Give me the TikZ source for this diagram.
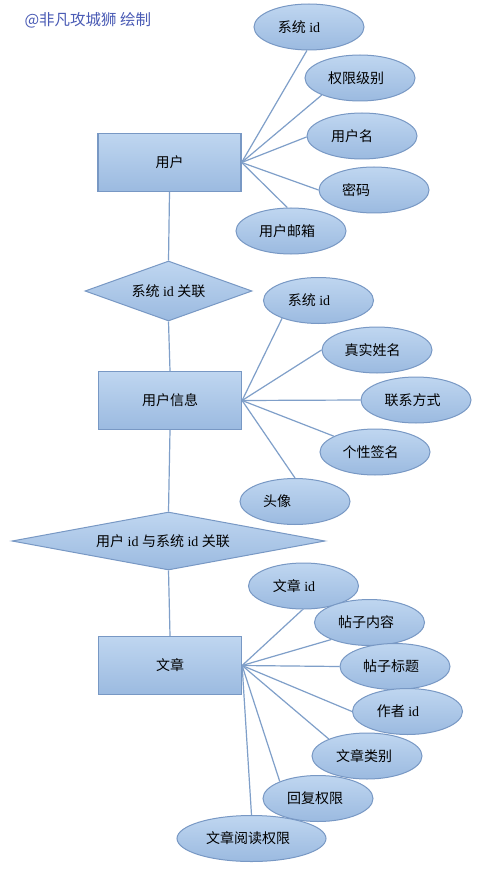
\documentclass[tikz,border=0pt]{standalone}
\usepackage{fontspec}
\setmainfont{Liberation Serif}
\newfontfamily\cjk{Noto Sans CJK SC}
\usetikzlibrary{shapes.geometric}
\definecolor{ctop}{HTML}{BFD6F0}
\definecolor{cbot}{HTML}{9BBAE0}
\definecolor{cedge}{HTML}{7898C4}
\definecolor{cline}{HTML}{7F9FC9}
\definecolor{ctitle}{HTML}{4A5BB5}
\newcommand\shl[1]{\hspace*{#1pt}}
\tikzset{
  txt/.style={font=\fontsize{14}{16}\selectfont, text=black},
  entity/.style={txt, rectangle, draw=cedge, line width=1.2pt, top color=ctop, bottom color=cbot, minimum width=143pt, minimum height=58pt, inner sep=0pt},
  attr/.style={txt, ellipse, draw=cedge, line width=1pt, top color=ctop, bottom color=cbot, minimum width=110pt, minimum height=46pt, inner sep=0pt},
  rel/.style={txt, diamond, draw=cedge, line width=1pt, top color=ctop, bottom color=cbot, inner sep=0pt, aspect=2.8},
  conn/.style={draw=cline, line width=1.2pt}
}
\begin{document}
\begin{tikzpicture}[x=1pt,y=-1pt]
\useasboundingbox (0,0) rectangle (483,877);
\fill[white] (0,0) rectangle (483,877);
\node[anchor=west, text=ctitle, font=\cjk\fontsize{15.5}{18}\selectfont] (title) at (21,20.5) {@非凡攻城狮 绘制};

% user entity
\node[entity] (user) at (169.5,162.5) {\cjk 用户};
\node[attr] (u1) at (309,27) {{\cjk 系统} id\shl{20}};
\node[attr] (u2) at (360,78) {\cjk 权限级别\shl{8}};
\node[attr] (u3) at (362,136) {\cjk 用户名\shl{20}};
\node[attr] (u4) at (374,190) {\cjk 密码\shl{36}};
\node[attr] (u5) at (291,231) {\cjk 用户邮箱\shl{8}};
\draw[conn] (user.east) -- (u1.265);
\draw[conn] (user.east) -- (u2.204);
\draw[conn] (user.east) -- (u3.181);
\draw[conn] (user.east) -- (u4.180);
\draw[conn] (user.east) -- (u5.99);

\node[rel, aspect=2.8, minimum width=167pt, minimum height=60pt] (d1) at (168.5,291) {{\cjk 系统} id {\cjk 关联}};
\draw[conn] (user.south) -- (d1.north);

% user info
\node[entity] (info) at (170,400.5) {\cjk 用户信息};
\draw[conn] (d1.south) -- (info.north);
\node[attr] (i1) at (318.5,300.5) {{\cjk 系统} id\shl{19}};
\node[attr] (i2) at (377,350) {\cjk 真实姓名\shl{9}};
\node[attr] (i3) at (416,400) {\cjk 联系方式\shl{7}};
\node[attr] (i4) at (375,452) {\cjk 个性签名\shl{9}};
\node[attr] (i5) at (295,501.5) {\cjk 头像\shl{36}};
\draw[conn] (info.east) -- (i1.206);
\draw[conn] (info.east) -- (i2.180);
\draw[conn] (info.east) -- (i3.180);
\draw[conn] (info.east) -- (i4.159);
\draw[conn] (info.east) -- (i5.90);

\node[rel, aspect=5.4, minimum width=313pt, minimum height=58pt] (d2) at (168.5,541) {{\cjk 用户} id {\cjk 与系统} id {\cjk 关联}\shl{11}};
\draw[conn] (info.south) -- (d2.north);

% article
\node[entity] (art) at (170,665.5) {\cjk 文章};
\draw[conn] (d2.south) -- (art.north);
\node[attr] (a1) at (303.5,586) {{\cjk 文章} id\shl{19}};
\node[attr] (a2) at (369.5,622.5) {\cjk 帖子内容\shl{7}};
\node[attr] (a3) at (395,666.5) {\cjk 帖子标题\shl{8}};
\node[attr] (a4) at (407.5,711.5) {{\cjk 作者} id\shl{19}};
\node[attr] (a5) at (367,756) {\cjk 文章类别\shl{6}};
\node[attr] (a6) at (318,798.5) {\cjk 回复权限\shl{6}};
\node[attr, minimum width=149pt] (a7) at (251.5,838.5) {\cjk 文章阅读权限\shl{7}};
\draw[conn] (art.east) -- (a1.268);
\draw[conn] (art.east) -- (a2.204);
\draw[conn] (art.east) -- (a3.180);
\draw[conn] (art.east) -- (a4.180);
\draw[conn] (art.east) -- (a5.156);
\draw[conn] (art.east) -- (a6.156);
\draw[conn] (art.east) -- (a7.90);
\end{tikzpicture}
\end{document}
